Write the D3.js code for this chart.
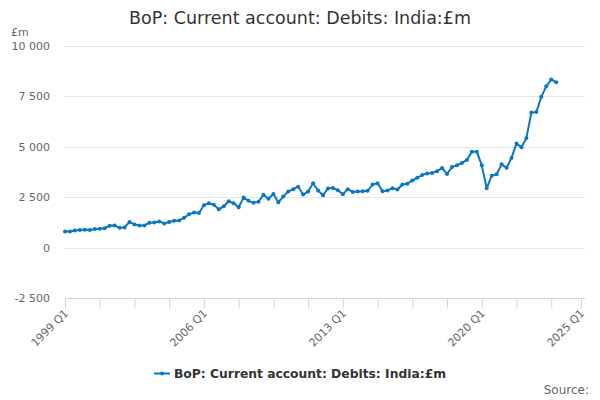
<!DOCTYPE html>
<html>
<head>
<meta charset="utf-8">
<script src="https://cdn.jsdelivr.net/npm/d3@7"></script>
<style>
  body { margin: 0; background: #fff; }
  svg { font-family: "DejaVu Sans", sans-serif; }
</style>
</head>
<body>
<div id="chart"></div>
<script>
// quarterly values, 1999 Q1 .. 2023 Q4
var startYear = 1999;
var values = [
  800, 800, 850, 870, 880, 870, 920, 930, 960, 1080,
  1100, 980, 1000, 1270, 1150, 1100, 1100, 1230, 1250, 1300,
  1200, 1270, 1330, 1350, 1480, 1650, 1740, 1720, 2100, 2200,
  2120, 1900, 2050, 2300, 2200, 2000, 2480, 2320, 2220, 2280,
  2620, 2420, 2660, 2250, 2530, 2780, 2900, 3020, 2630, 2780,
  3190, 2830, 2600, 2930, 2960, 2850, 2650, 2900, 2760, 2780,
  2790, 2820, 3130, 3190, 2800, 2830, 2950, 2880, 3130, 3170,
  3330, 3460, 3600, 3680, 3700, 3790, 3950, 3650, 4000, 4080,
  4200, 4350, 4760, 4760, 4080, 2940, 3570, 3640, 4130, 3960,
  4450, 5160, 4980, 5440, 6700, 6720, 7480, 8000, 8340, 8200
];
var yTicks = [-2500, 0, 2500, 5000, 7500, 10000];
var xTickLabels = ["1999 Q1", "2006 Q1", "2013 Q1", "2020 Q1", "2025 Q1"];
var seriesName = "BoP: Current account: Debits: India:£m";

var width = 600, height = 400;
var blue = "#0a77c2";

var svg = d3.select("#chart").append("svg")
  .attr("width", width)
  .attr("height", height);

// quarter index <-> label
function quarterIndex(label) {
  var parts = label.split(" Q");
  return (+parts[0] - startYear) * 4 + (+parts[1] - 1);
}

var xScale = d3.scaleLinear().domain([0, quarterIndex("2025 Q1")]).range([65, 581]);
var yScale = d3.scaleLinear().domain([-2500, 10000]).range([298, 46]);

// title
svg.append("text")
  .attr("x", 300)
  .attr("y", 24)
  .attr("text-anchor", "middle")
  .style("font-size", "17.5px")
  .style("fill", "#333")
  .text("BoP: Current account: Debits: India:£m");

svg.append("text")
  .attr("x", 11)
  .attr("y", 36)
  .style("font-size", "11px")
  .style("fill", "#666")
  .text("£m");

// grid
svg.append("g")
  .selectAll("line")
  .data(yTicks.filter(function(t) { return t !== -2500; }))
  .enter()
  .append("line")
  .attr("x1", 65)
  .attr("x2", 585)
  .attr("y1", function(d) { return Math.round(yScale(d)) + 0.5; })
  .attr("y2", function(d) { return Math.round(yScale(d)) + 0.5; })
  .attr("stroke", "#e6e6e6");

// y labels, space as thousands separator and a plain hyphen for negatives
var fmt = function(d) {
  return d3.format(",")(d).replace(/,/g, " ").replace("\u2212", "-");
};
svg.append("g")
  .selectAll("text")
  .data(yTicks)
  .enter()
  .append("text")
  .attr("x", 50)
  .attr("y", function(d) { return yScale(d) + 4; })
  .attr("text-anchor", "end")
  .style("font-size", "11px")
  .style("fill", "#666")
  .text(fmt);

// x axis
var tickIdx = d3.range(0, 99, 7).concat([quarterIndex("2025 Q1")]);
var xAxis = d3.axisBottom(xScale)
  .tickValues(tickIdx)
  .tickSize(10)
  .tickFormat("");

var xg = svg.append("g")
  .attr("transform", "translate(0," + 298.5 + ")")
  .call(xAxis);
xg.select(".domain").attr("stroke", "#ccd6eb").attr("d", "M65,0H585");
xg.selectAll(".tick line").attr("stroke", "#ccd6eb");

svg.append("g")
  .selectAll("text")
  .data(xTickLabels)
  .enter()
  .append("text")
  .attr("transform", function(d) {
    return "translate(" + (xScale(quarterIndex(d)) + 4) + ",314) rotate(-45)";
  })
  .attr("text-anchor", "end")
  .style("font-size", "11px")
  .style("fill", "#666")
  .text(function(d) { return d; });

// line
var line = d3.line()
  .x(function(d, i) { return xScale(i); })
  .y(function(d) { return yScale(d); });

svg.append("path")
  .datum(values)
  .attr("d", line)
  .attr("fill", "none")
  .attr("stroke", blue)
  .attr("stroke-width", 2)
  .attr("stroke-linejoin", "round");

svg.append("g")
  .selectAll("circle")
  .data(values)
  .enter()
  .append("circle")
  .attr("cx", function(d, i) { return xScale(i); })
  .attr("cy", function(d) { return yScale(d); })
  .attr("r", 2)
  .attr("fill", blue);

// legend
svg.append("line")
  .attr("x1", 154)
  .attr("x2", 170)
  .attr("y1", 373.5)
  .attr("y2", 373.5)
  .attr("stroke", blue)
  .attr("stroke-width", 2);
svg.append("circle")
  .attr("cx", 162)
  .attr("cy", 373.5)
  .attr("r", 2)
  .attr("fill", blue);
svg.append("text")
  .attr("x", 174)
  .attr("y", 378)
  .style("font-size", "12.3px")
  .style("font-weight", "bold")
  .style("fill", "#333")
  .text(seriesName);

svg.append("text")
  .attr("x", 589)
  .attr("y", 394)
  .attr("text-anchor", "end")
  .style("font-size", "12px")
  .style("fill", "#666")
  .text("Source:");
</script>
</body>
</html>
